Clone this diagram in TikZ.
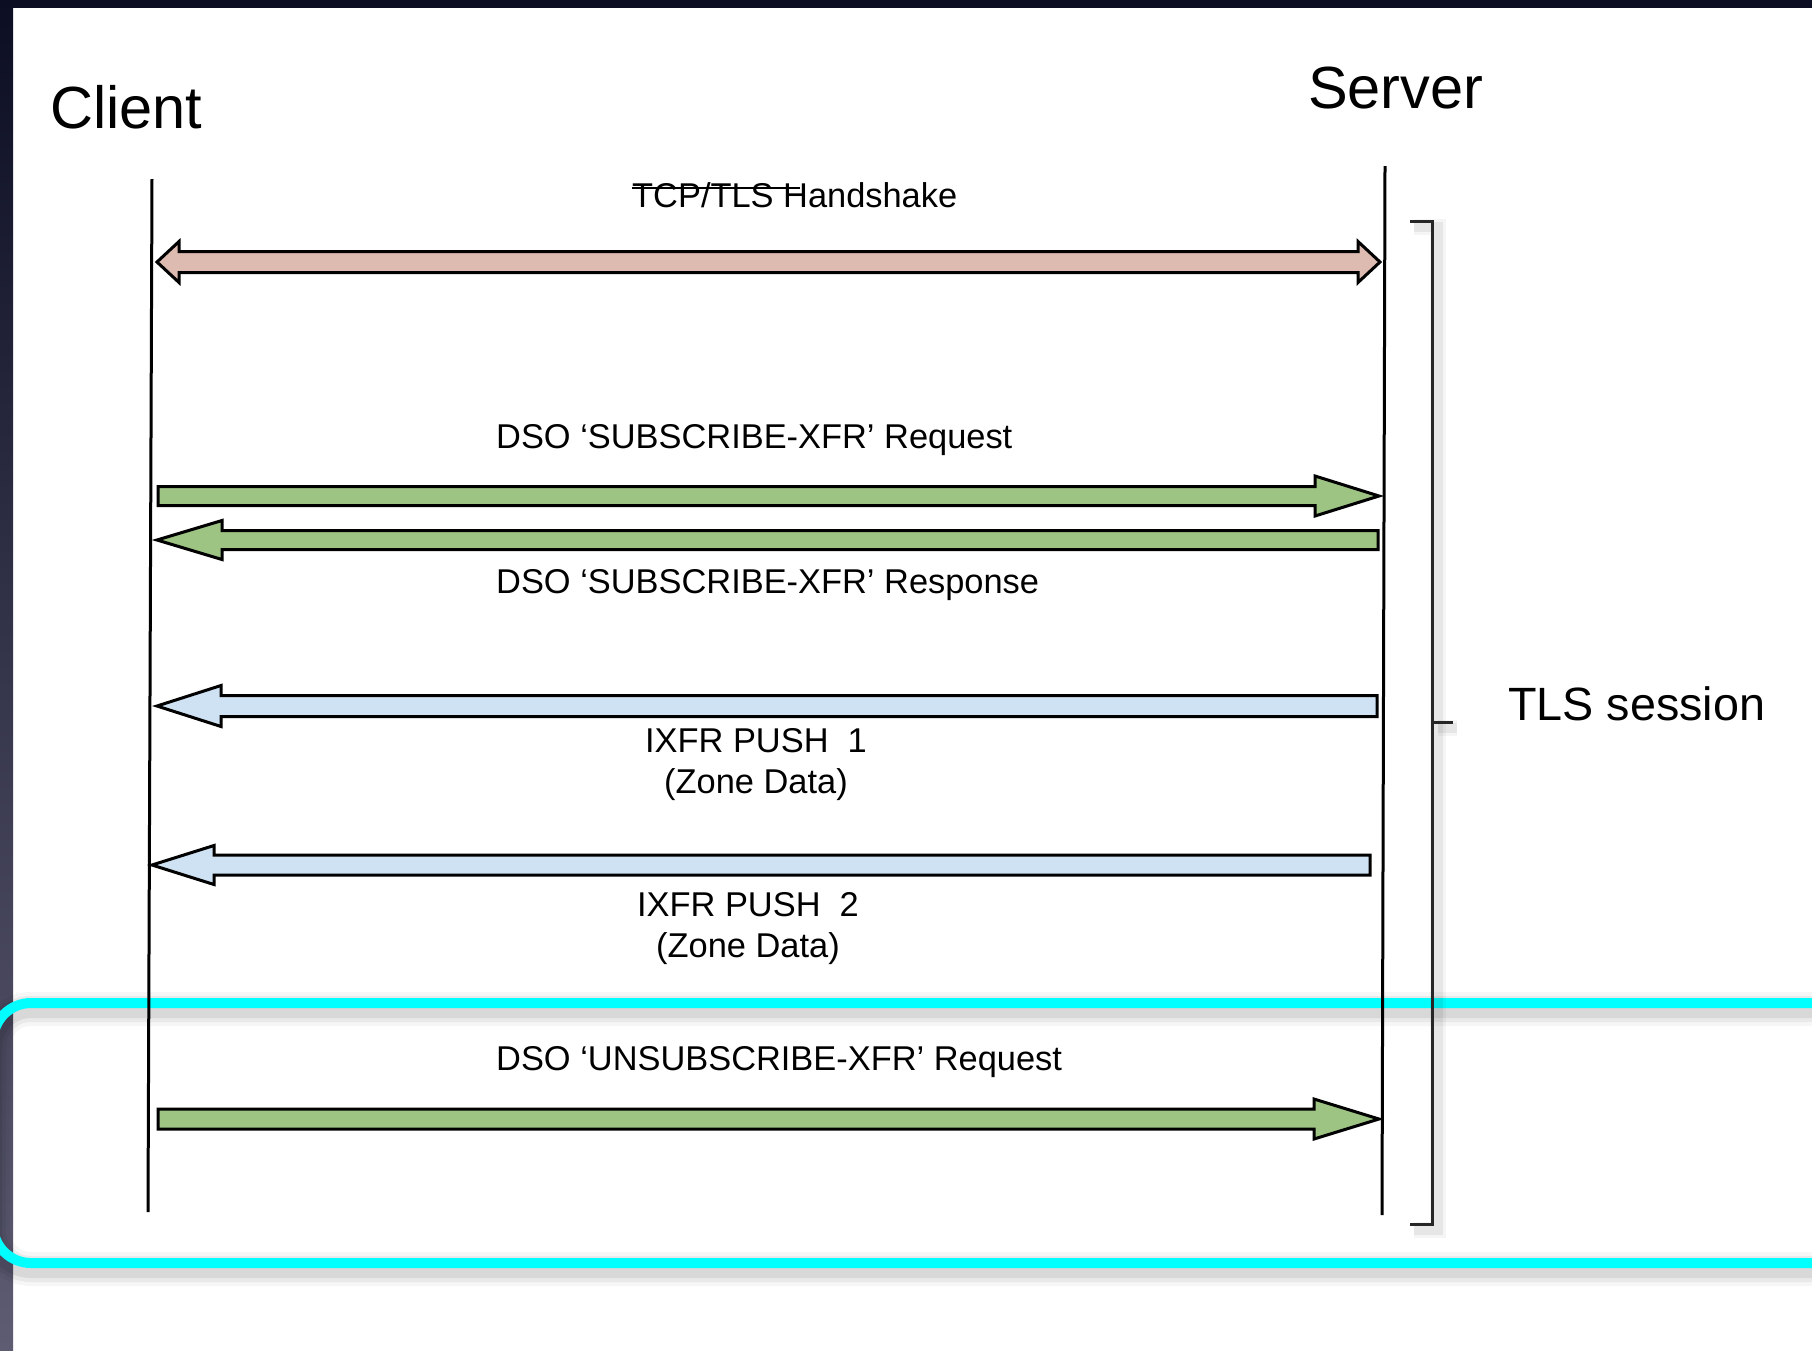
\documentclass[tikz,border=0pt]{standalone}
\usepackage{fontspec}
\setmainfont{Liberation Sans}
\usetikzlibrary{calc}
\definecolor{pinkfill}{RGB}{222,187,177}
\definecolor{greenfill}{RGB}{158,196,131}
\definecolor{bluefill}{RGB}{207,226,243}
\definecolor{navyband}{RGB}{12,14,36}
\definecolor{bandlow}{RGB}{94,92,114}
\definecolor{cyanbox}{RGB}{0,255,255}
% #1 style, #2 tail, #3 tip, #4 shaft half height, #5 head half height, #6 head length (signed: + for rightward)
\newcommand\blockarrow[6]{%
  \draw[#1] ($(#2)+(0,-#4)$) -- ($(#3)+(-#6,-#4)$) -- ($(#3)+(-#6,-#5)$) -- (#3)
    -- ($(#3)+(-#6,#5)$) -- ($(#3)+(-#6,#4)$) -- ($(#2)+(0,#4)$) -- cycle;}
\tikzset{
  fatarrow/.style={draw=black, line width=3, line join=miter},
  lifeline/.style={draw=black, line width=3},
  brk/.style={draw=black!85, line width=3},
  lbl/.style={inner sep=0, font=\fontsize{34.4}{41}\selectfont},
  big/.style={inner sep=0, font=\fontsize{59.5}{70}\selectfont},
}
\begin{document}
\begin{tikzpicture}[x=1pt,y=-1pt]
\useasboundingbox (0,0) rectangle (1812,1350);
\clip (0,0) rectangle (1812,1350);
\fill[white] (0,0) rectangle (1812,1350);
% frame bands
\fill[navyband] (0,0) rectangle (1812,8);
\shade[top color=navyband, bottom color=bandlow] (0,0) rectangle (13,1350);

% cyan highlight box with soft shadow
\foreach \w/\o in {34/0.035, 26/0.05, 18/0.07} {
  \draw[black, opacity=\o, line width=\w, rounded corners=38] (-7,1009) rectangle (1880,1269);
}
\draw[cyanbox, line width=10, rounded corners=38] (-7,1003) rectangle (1880,1263);

% bracket shadow
\foreach \w/\o in {16/0.04, 10/0.06} {
  \draw[black, opacity=\o, line width=\w] (1414,227) -- (1438,227) -- (1438,1230) -- (1414,1230);
  \draw[black, opacity=\o, line width=\w] (1438,728) -- (1457,728);
}
% bracket
\coordinate (bT) at (1410,221);
\coordinate (bTc) at (1432,221);
\coordinate (bBc) at (1432,1224);
\coordinate (bB) at (1410,1224);
\coordinate (bM) at (1432,722);
\coordinate (bMe) at (1453,722);
\draw[brk] (bT) -- (bTc) -- (bBc) -- (bB);
\draw[brk] (bM) -- (bMe);

% headings
\node[big, anchor=base west] (client) at (50,128) {Client};
\node[big, anchor=base west] (server) at (1308,108) {Server};
\node[inner sep=0, font=\fontsize{46.7}{56}\selectfont, anchor=base west] (tls) at (1508,720) {TLS session};

% lifelines
\coordinate (cTop) at (152,179);
\coordinate (cBot) at (148,1212);
\coordinate (sTop) at (1385,166);
\coordinate (sBot) at (1382,1215);
\draw[lifeline] (cTop) -- (cBot);
\draw[lifeline] (sTop) -- (sBot);

% handshake double arrow
\coordinate (hsL) at (157,262);
\coordinate (hsR) at (1380,262);
\draw[fatarrow, fill=pinkfill] (hsL) -- ($(hsL)+(22,-20.5)$) -- ($(hsL)+(22,-10.5)$) -- ($(hsR)+(-22,-10.5)$)
  -- ($(hsR)+(-22,-20.5)$) -- (hsR) -- ($(hsR)+(-22,20.5)$) -- ($(hsR)+(-22,10.5)$)
  -- ($(hsL)+(22,10.5)$) -- ($(hsL)+(22,20.5)$) -- cycle;
\node[lbl, anchor=base west] (hs) at (632,207) {TCP/TLS Handshake};
\draw[black, line width=2] ($(hs.base west)+(0,-19)$) -- ($(hs.base west)+(168,-19)$);

% subscribe request / response
\coordinate (rqA) at (158,496);
\coordinate (rqB) at (1379,496);
\blockarrow{fatarrow, fill=greenfill}{rqA}{rqB}{9.5}{20}{64}
\node[lbl, anchor=base west] (rq) at (496,448) {DSO ‘SUBSCRIBE-XFR’ Request};

\coordinate (rsA) at (1378,540);
\coordinate (rsB) at (157,540);
\blockarrow{fatarrow, fill=greenfill}{rsA}{rsB}{9.5}{19.5}{-65}
\node[lbl, anchor=base west] (rs) at (496,593) {DSO ‘SUBSCRIBE-XFR’ Response};

% IXFR pushes
\coordinate (p1A) at (1377,706);
\coordinate (p1B) at (157,706);
\blockarrow{fatarrow, fill=bluefill}{p1A}{p1B}{10.5}{20.5}{-64}
\node[lbl, align=center, anchor=north] (p1) at (756,728) {IXFR PUSH~~1\\(Zone Data)};

\coordinate (p2A) at (1370,865);
\coordinate (p2B) at (152,865);
\blockarrow{fatarrow, fill=bluefill}{p2A}{p2B}{10}{19.5}{-62}
\node[lbl, align=center, anchor=north] (p2) at (748,892) {IXFR PUSH~~2\\(Zone Data)};

% unsubscribe
\coordinate (unA) at (158,1119);
\coordinate (unB) at (1379,1119);
\blockarrow{fatarrow, fill=greenfill}{unA}{unB}{10}{20}{65}
\node[lbl, anchor=base west] (un) at (496,1070) {DSO ‘UNSUBSCRIBE-XFR’ Request};
\end{tikzpicture}
\end{document}
